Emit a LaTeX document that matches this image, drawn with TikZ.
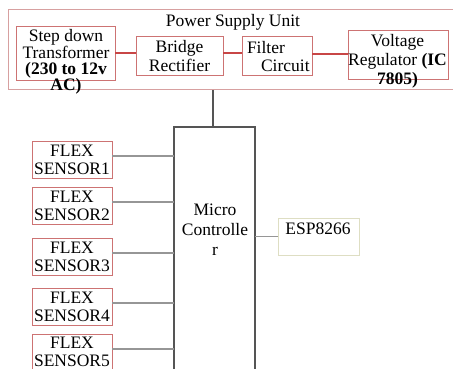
\documentclass[tikz,border=0pt]{standalone}
\usepackage{fontspec}
\setmainfont{Liberation Serif}
\newfontfamily\dserif{Liberation Serif}
\definecolor{boxred}{RGB}{205,115,115}
\definecolor{outerpink}{RGB}{215,160,160}
\definecolor{linkred}{RGB}{200,70,70}
\definecolor{sgray}{RGB}{150,150,150}
\definecolor{mcgray}{RGB}{85,85,85}
\definecolor{espbeige}{RGB}{222,222,195}
\tikzset{
  x=1pt, y=-1pt,
  every node/.style={font=\dserif\fontsize{17.5}{18}\selectfont, inner sep=0pt, outer sep=0pt},
  redbox/.style={draw=boxred, line width=1pt, rectangle},
  sensorbox/.style={draw=boxred, line width=1pt, rectangle, minimum width=80pt, minimum height=37pt, align=center},
  redlink/.style={draw=linkred, line width=1.3pt},
  graylink/.style={draw=sgray, line width=1.1pt},
}
\begin{document}
\begin{tikzpicture}
\useasboundingbox (0,0) rectangle (453,369);
\clip (0,0) rectangle (453,369);
\fill[white] (0,0) rectangle (453,369);
% Power supply unit
\node[draw=outerpink, line width=1pt, minimum width=462pt, minimum height=80pt] (psu) at (239,50) {};
\node (psutitle) at (233,22) {Power Supply Unit};
\node[redbox, minimum width=99pt, minimum height=54pt] (sd) at (65.5,54) {};
\node[align=center, font=\dserif\fontsize{17.5}{16}\selectfont] (sdtext) at (66,62) {Step down\\Transformer\\\textbf{(230 to 12v}\\\textbf{AC)}};
\node[redbox, minimum width=87pt, minimum height=39pt, align=center, font=\dserif\fontsize{17.5}{19}\selectfont] (br) at (179.5,56.5) {Bridge\\Rectifier};
\node[redbox, minimum width=70pt, minimum height=39pt] (fc) at (277,56.5) {};
\node[align=left, font=\dserif\fontsize{17.5}{18}\selectfont, anchor=west] (fctext) at (247,56.5) {Filter\\\hspace*{14pt}Circuit};
\node[redbox, minimum width=100pt, minimum height=49pt] (vr) at (398,55.5) {};
\node[align=center, font=\dserif\fontsize{17.5}{19}\selectfont] (vrtext) at (397.5,61.5) {Voltage\\Regulator \textbf{(IC}\\\textbf{7805)}};
\draw[redlink] ([yshift=1pt]sd.east) -- ([yshift=1pt]sd.east -| br.west);
\draw[redlink] ([yshift=3.5pt]br.east) -- ([yshift=3.5pt]br.east -| fc.west);
\draw[redlink] ([yshift=2.5pt]fc.east) -- ([yshift=2.5pt]fc.east -| vr.west);
% Microcontroller
\node[draw=mcgray, line width=1.3pt, minimum width=81pt, minimum height=253pt] (mc) at (214.5,253.5) {};
\node[align=center, font=\dserif\fontsize{17.5}{20}\selectfont] (mctext) at (215,230) {Micro\\Controlle\\r};
\draw[draw=mcgray, line width=1.1pt] ([xshift=-1.5pt]mc.north) -- ([xshift=-1.5pt]mc.north |- psu.south);
% Sensors
\node[sensorbox] (s1) at (72,159.5) {FLEX\\SENSOR1};
\node[sensorbox] (s2) at (72,205.5) {FLEX\\SENSOR2};
\node[sensorbox] (s3) at (72,256.5) {FLEX\\SENSOR3};
\node[sensorbox] (s4) at (72,306.5) {FLEX\\SENSOR4};
\node[sensorbox] (s5) at (72,352.5) {};
\node[align=center] (s5text) at (72,351.5) {FLEX\\SENSOR5};
\foreach \s in {s1,s2,s3,s4,s5}{
  \draw[graylink] ([yshift=3.5pt]\s.east) -- ([yshift=3.5pt]\s.east -| mc.west);
}
% ESP
\node[draw=espbeige, line width=1pt, minimum width=81pt, minimum height=37pt] (esp) at (318.5,236.5) {};
\node (esptext) at (318,229) {ESP8266};
\draw[graylink] (esp.west) -- (esp.west -| mc.east);
\end{tikzpicture}
\end{document}
